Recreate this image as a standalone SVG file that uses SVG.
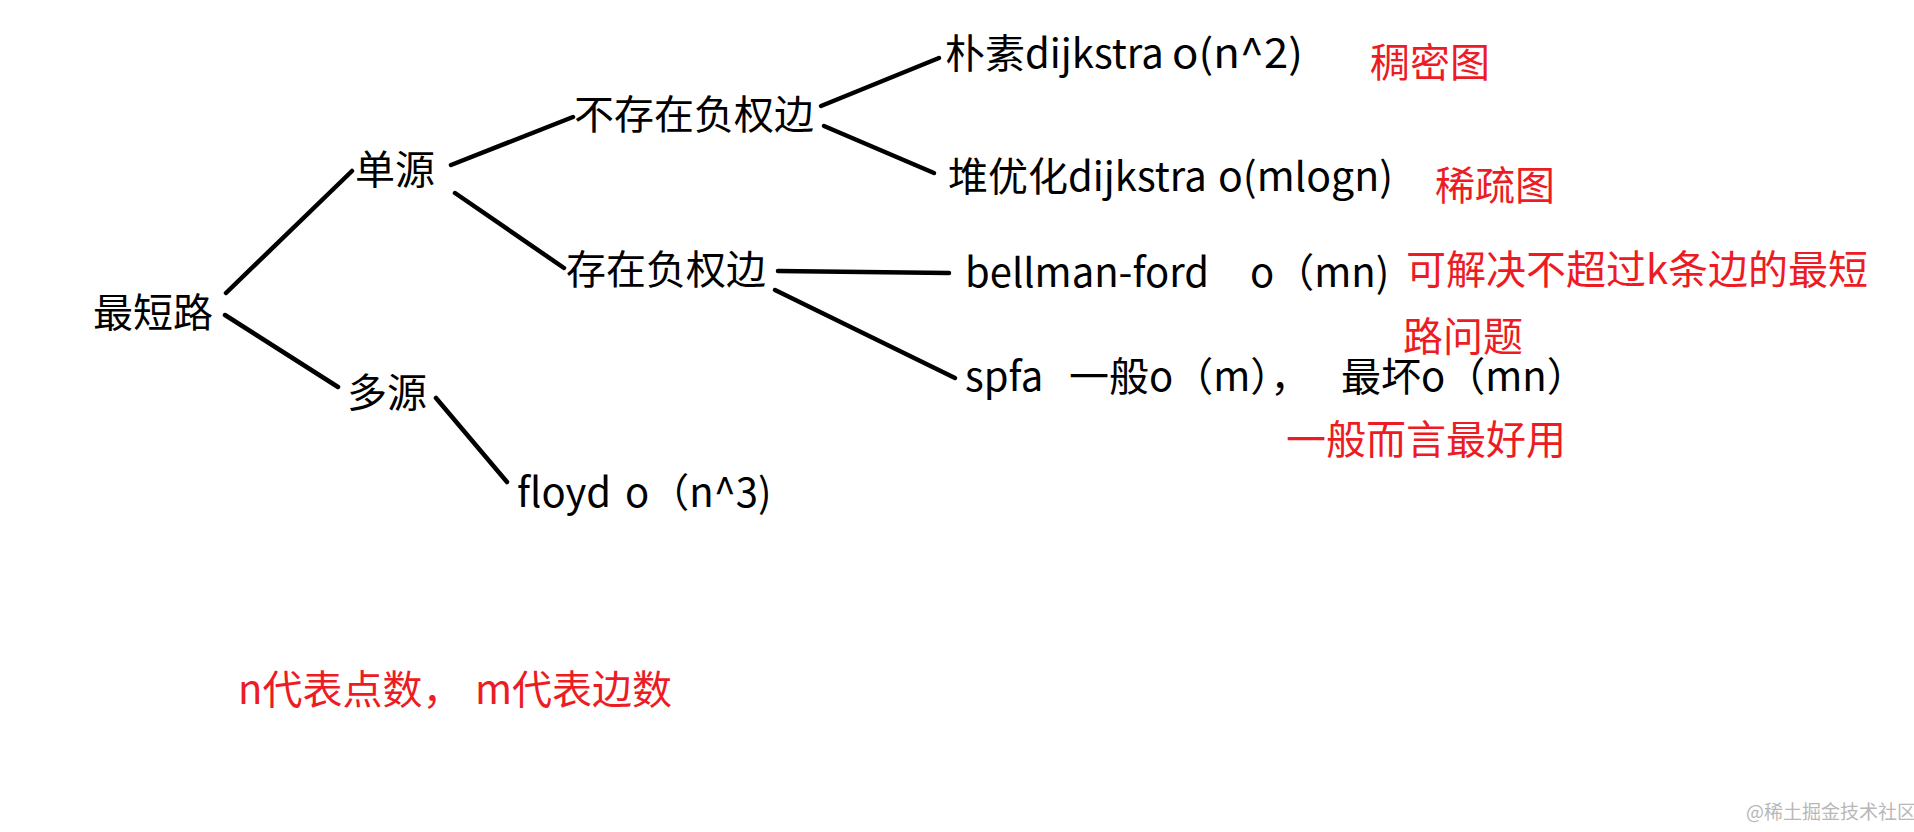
<svg xmlns="http://www.w3.org/2000/svg" width="1914" height="832" viewBox="0 0 1914 832">
<style>
text{font-family:"Noto Sans CJK SC","Noto Sans",sans-serif;font-size:40px;fill:#000}
.r{fill:#ED1C24}
.wm{font-size:19px;fill:#b8b8b8}
#connectors line{stroke:#000;stroke-width:4.5;stroke-linecap:round}
</style>
<rect width="1914" height="832" fill="#fff"/>
<g id="connectors">
<line x1="226" y1="293" x2="352" y2="171"/>
<line x1="225" y1="315" x2="338" y2="387"/>
<line x1="451" y1="165" x2="573" y2="117"/>
<line x1="455" y1="193" x2="564" y2="268"/>
<line x1="778" y1="271" x2="949" y2="273"/>
<line x1="775" y1="290" x2="955" y2="378"/>
<line x1="821" y1="106" x2="939" y2="58"/>
<line x1="824" y1="126" x2="934" y2="173"/>
<line x1="436" y1="398" x2="507" y2="482"/>
</g>
<g id="n-root"><text x="93" y="327">最短路</text></g>
<g id="n-single"><text x="355" y="184">单源</text></g>
<g id="n-multi"><text x="347" y="407">多源</text></g>
<g id="n-nonneg"><text x="574" y="129">不存在负权边</text></g>
<g id="n-neg"><text x="566" y="284">存在负权边</text></g>
<g id="n-naive"><text x="945" y="68"><tspan>朴素dijkstra</tspan><tspan x="1172" textLength="131" lengthAdjust="spacingAndGlyphs">o(n^2)</tspan></text></g>
<g id="n-heap"><text x="948" y="191"><tspan>堆优化dijkstra</tspan><tspan x="1218" textLength="175" lengthAdjust="spacingAndGlyphs">o(mlogn)</tspan></text></g>
<g id="n-bellman"><text x="965" y="287"><tspan>bellman-ford</tspan><tspan x="1250">o（mn)</tspan></text></g>
<g id="n-spfa"><text x="965" y="391"><tspan>spfa</tspan><tspan x="1069">一般o（m），</tspan><tspan x="1341">最坏o（mn）</tspan></text></g>
<g id="n-floyd"><text x="517" y="507"><tspan>floyd</tspan><tspan x="625">o（n^3)</tspan></text></g>
<g id="notes">
<text class="r" x="1370" y="77">稠密图</text>
<text class="r" x="1435" y="200">稀疏图</text>
<text class="r" x="1406" y="284">可解决不超过k条边的最短</text>
<text class="r" x="1403" y="351">路问题</text>
<text class="r" x="1286" y="454">一般而言最好用</text>
<text class="r" x="238" y="704">n代表点数，<tspan x="475">m代表边数</tspan></text>
<text class="wm" x="1746" y="819">@稀土掘金技术社区</text>
</g>
</svg>
